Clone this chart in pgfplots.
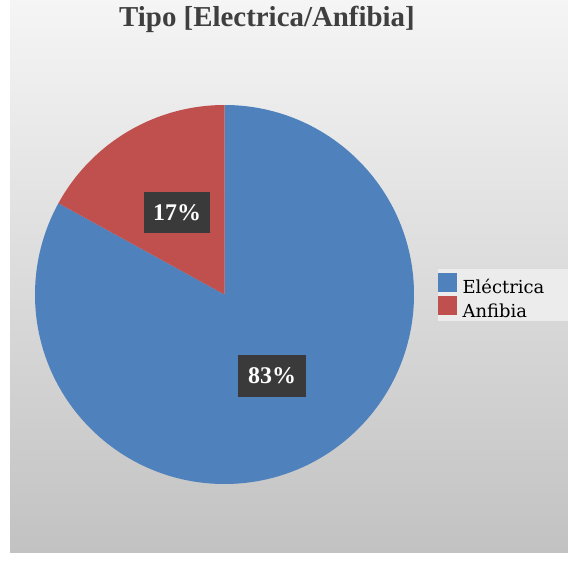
\documentclass[border=0pt]{standalone}
\usepackage{pgfplots}
\pgfplotsset{compat=1.18}
\usepackage{pgfplotstable}
\usepackage{fontspec}
\setmainfont{Liberation Serif}
\newfontfamily\legfont{DejaVu Serif}
\definecolor{eblue}{HTML}{4F81BD}
\definecolor{ared}{HTML}{C0504D}
\definecolor{lblbox}{HTML}{3A3A3A}
\definecolor{titlegray}{HTML}{3F3F3F}
\definecolor{bgtop}{HTML}{F5F5F5}
\definecolor{bgbot}{HTML}{C2C2C2}
\definecolor{legbg}{HTML}{ECECEC}

\pgfplotstableread{
share
83
17
}\piedata

\begin{document}
\begin{tikzpicture}
\pgfplotstablegetelem{0}{share}\of\piedata \let\vA\pgfplotsretval
\pgfplotstablegetelem{1}{share}\of\piedata \let\vB\pgfplotsretval
\pgfmathsetmacro{\aEnd}{90-3.6*\vA}
\pgfmathsetmacro{\bEnd}{\aEnd-3.6*\vB}
\useasboundingbox (0,0) rectangle (568bp,562bp);
\fill[white] (0,0) rectangle (568bp,562bp);
\begin{axis}[
  at={(0,0)}, anchor=origin,
  x=1bp, y=1bp, xmin=0, xmax=568, ymin=0, ymax=562,
  hide axis, clip=false,
  legend style={at={(axis cs:438,289.5)}, anchor=north west, draw=none, fill=none,
    font=\legfont\fontsize{18}{21}\selectfont, inner sep=0pt, column sep=6bp, row sep=-1bp,
    nodes={inner sep=0pt, text height=15bp, text depth=4bp}},
  legend cell align=left,
  legend image code/.code={\fill[#1] (0bp,-3bp) rectangle (18bp,15bp);},
]
  \shade[top color=bgtop, bottom color=bgbot] (axis cs:10,9) rectangle (axis cs:568,562);
  \fill[legbg] (axis cs:438,241) rectangle (axis cs:568,293);
  \fill[eblue] (axis cs:224.5,267.5) -- ++(90:189.5bp) arc[start angle=90, end angle=\aEnd, radius=189.5bp] -- cycle;
  \fill[ared] (axis cs:224.5,267.5) -- ++(\aEnd:189.5bp) arc[start angle=\aEnd, end angle=\bEnd, radius=189.5bp] -- cycle;
  \node[fill=lblbox, text=white, font=\bfseries\fontsize{24}{24}\selectfont, minimum width=66bp, minimum height=41bp, inner sep=0pt] at (axis cs:177,349.5) {\vB\%};
  \node[fill=lblbox, text=white, font=\bfseries\fontsize{24}{24}\selectfont, minimum width=68bp, minimum height=42bp, inner sep=0pt] at (axis cs:272,186) {\vA\%};
  \node[anchor=base, text=titlegray, font=\bfseries\fontsize{29}{29}\selectfont] at (axis cs:267,535) {Tipo [Electrica/Anfibia]};
  \addlegendimage{eblue}
  \addlegendentry{Eléctrica}
  \addlegendimage{ared}
  \addlegendentry{Anfibia}
\end{axis}
\end{tikzpicture}
\end{document}
